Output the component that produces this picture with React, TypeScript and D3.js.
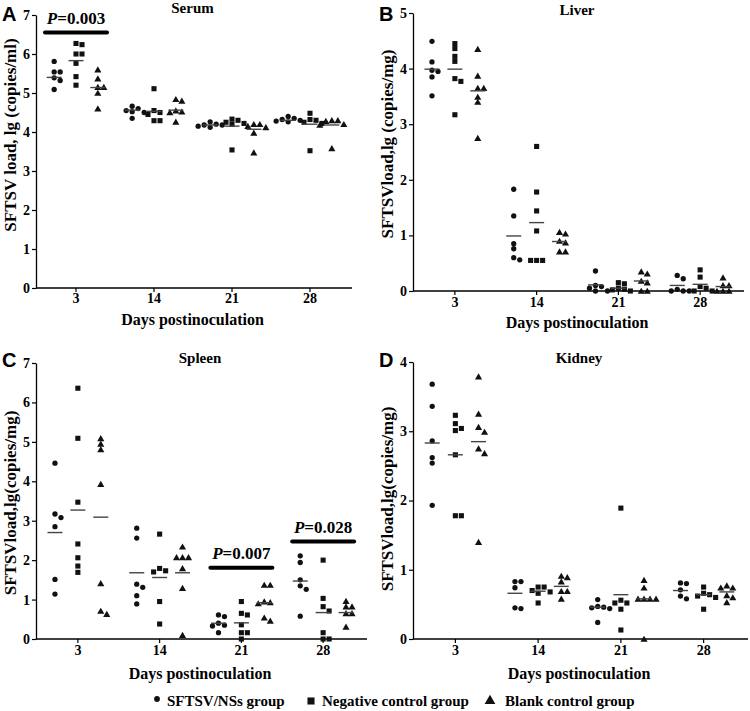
import React, { useEffect, useRef } from "react";
import * as d3 from "d3";

const days = ["3", "14", "21", "28"];
const groups = ["SFTSV/NSs group", "Negative control group", "Blank control group"];

// Serum
const serumNSs = [[5.81, 5.54, 5.54, 5.39, 5.32, 5.09], [4.66, 4.6, 4.55, 4.52, 4.5, 4.35], [4.26, 4.2, 4.18, 4.18, 4.15, 4.12], [4.4, 4.35, 4.32, 4.3, 4.28, 4.26]];
const serumNeg = [[6.27, 6.24, 6.0, 6.0, 5.76, 5.42, 5.2], [5.11, 4.55, 4.5, 4.45, 4.29, 4.29], [4.33, 4.3, 4.25, 4.22, 4.2, 3.54], [4.48, 4.32, 4.3, 4.25, 4.22, 3.52]];
const serumBlank = [[5.6, 5.37, 5.15, 5.15, 5.0, 4.6], [4.84, 4.8, 4.55, 4.52, 4.5, 4.26], [4.2, 4.2, 4.15, 4.12, 3.98, 3.47], [4.3, 4.3, 4.28, 4.2, 4.18, 3.58]];
const serumMeanNSs = [5.4, 4.56, 4.18, 4.3];
const serumMeanNeg = [5.83, 4.53, 4.15, 4.2];
const serumMeanBlank = [5.14, 4.56, 4.07, 4.18];

// Liver
const liverNSs = [[4.49, 4.12, 3.97, 3.95, 3.85, 3.51], [1.83, 1.35, 0.85, 0.76, 0.6, 0.56], [0.36, 0.1, 0.08, 0.05, 0, 0], [0.28, 0.22, 0.03, 0, 0, 0]];
const liverNeg = [[4.45, 4.36, 4.22, 4.13, 3.82, 3.77, 3.17], [2.6, 1.78, 1.44, 1.08, 0.55, 0.55, 0.55], [0.15, 0.13, 0.05, 0.03, 0.02, 0], [0.38, 0.25, 0.08, 0.05, 0, 0]];
const liverBlank = [[4.35, 3.87, 3.65, 3.65, 3.49, 3.4, 2.75], [1.06, 1.03, 0.9, 0.87, 0.71, 0.71], [0.35, 0.31, 0.18, 0.15, 0, 0], [0.24, 0.1, 0.1, 0, 0, 0]];
const liverMeanNSs = [3.99, 0.99, 0.11, 0.1];
const liverMeanNeg = [3.99, 1.23, 0.05, 0.12];
const liverMeanBlank = [3.6, 0.89, 0.18, 0.08];

// Spleen
const spleenNSs = [[4.46, 3.17, 3.08, 2.85, 1.51, 1.14], [2.81, 2.56, 1.39, 1.31, 1.1, 0.89], [0.61, 0.57, 0.4, 0.35, 0.33, 0.16], [2.11, 1.94, 1.5, 1.35, 1.26, 0.58]];
const spleenNeg = [[6.36, 5.09, 3.47, 2.41, 2.06, 1.85, 1.69], [2.66, 1.79, 1.73, 1.7, 0.95, 0.38], [0.95, 0.65, 0.61, 0.36, 0.16, 0.16, 0], [2.0, 1.03, 0.82, 0.71, 0.16, 0, 0]];
const spleenBlank = [[5.09, 4.95, 4.81, 3.93, 1.41, 0.71, 0.63], [2.34, 2.07, 2.07, 2.07, 1.79, 1.29, 0.1], [1.37, 1.37, 0.95, 0.93, 0.9, 0.54, 0.46], [0.96, 0.82, 0.82, 0.65, 0.65, 0.31]];
const spleenMeanNSs = [2.7, 1.68, 0.4, 1.47];
const spleenMeanNeg = [3.27, 1.56, 0.41, 0.67];
const spleenMeanBlank = [3.09, 1.68, 0.92, 0.67];

// Kidney
const kidneyNSs = [[3.68, 3.36, 2.86, 2.62, 2.54, 1.93], [0.83, 0.83, 0.74, 0.45, 0.44], [0.57, 0.47, 0.46, 0.45, 0.44, 0.24], [0.81, 0.8, 0.71, 0.62, 0.58]];
const kidneyNeg = [[3.23, 3.11, 3.04, 3.01, 2.66, 1.78, 1.78], [0.75, 0.75, 0.7, 0.68, 0.66, 0.52], [1.89, 0.56, 0.52, 0.52, 0.43, 0.13], [0.75, 0.66, 0.64, 0.62, 0.6, 0.43]];
const kidneyBlank = [[3.79, 3.25, 3.06, 2.99, 2.75, 2.68, 1.4], [0.91, 0.89, 0.83, 0.69, 0.69, 0.58], [0.85, 0.74, 0.58, 0.58, 0.58, 0.58, 0], [0.77, 0.74, 0.74, 0.63, 0.6, 0.53]];
const kidneyMeanNSs = [2.83, 0.66, 0.46, 0.7];
const kidneyMeanNeg = [2.66, 0.69, 0.64, 0.64];
const kidneyMeanBlank = [2.85, 0.76, 0.58, 0.68];

// Significance annotations
const serumSigDays = ["3"];
const serumSigValues = [6.55];
const serumSigLabels = ["=0.003"];
const spleenSigDays = ["21", "28"];
const spleenSigValues = [1.81, 2.47];
const spleenSigLabels = ["=0.007", "=0.028"];

const SERIF = "'Liberation Serif', 'Times New Roman', serif";
const SANS = "'Liberation Sans', Arial, sans-serif";

const panels = [
  { letter: "A", title: "Serum", ylabel: "SFTSV load, lg (copies/ml)", yMax: 7, left: 36, right: 349, bottom: 288, top: 15, xtickY: 303, xtitleY: 325, data: [serumNSs, serumNeg, serumBlank], means: [serumMeanNSs, serumMeanNeg, serumMeanBlank], sigDays: serumSigDays, sigValues: serumSigValues, sigLabels: serumSigLabels, letterY: 21, titleY: 13, ylabelY: 135 },
  { letter: "B", title: "Liver", ylabel: "SFTSVload,lg  (copies/mg)", yMax: 5, left: 413, right: 741, bottom: 291, top: 13, xtickY: 307, xtitleY: 328, data: [liverNSs, liverNeg, liverBlank], means: [liverMeanNSs, liverMeanNeg, liverMeanBlank], sigDays: [], sigValues: [], sigLabels: [], letterY: 21, titleY: 15, ylabelY: 144 },
  { letter: "C", title: "Spleen", ylabel: "SFTSVload,lg(copies/mg)", yMax: 7, left: 36, right: 364, bottom: 639, top: 363, xtickY: 655, xtitleY: 679, data: [spleenNSs, spleenNeg, spleenBlank], means: [spleenMeanNSs, spleenMeanNeg, spleenMeanBlank], sigDays: spleenSigDays, sigValues: spleenSigValues, sigLabels: spleenSigLabels, letterY: 367, titleY: 363, ylabelY: 503 },
  { letter: "D", title: "Kidney", ylabel: "SFTSVload,lg(copies/mg)", yMax: 4, left: 413, right: 745, bottom: 639, top: 362, xtickY: 655, xtitleY: 679, data: [kidneyNSs, kidneyNeg, kidneyBlank], means: [kidneyMeanNSs, kidneyMeanNeg, kidneyMeanBlank], sigDays: [], sigValues: [], sigLabels: [], letterY: 367, titleY: 363, ylabelY: 499 },
];

const symbolTypes = [d3.symbolCircle, d3.symbolSquare, d3.symbolTriangle];
const symbolSizes = [22, 26, 22];

function swarm(ys: number[], step: number) {
  const placed: { x: number; y: number }[] = [];
  const xs = new Array(ys.length).fill(0);
  ys.forEach((yv, i) => {
    const cands = [0];
    for (let k = 1; k < 6; k++) { cands.push(k * step * 0.5, -k * step * 0.5); }
    let chosen = 0;
    for (const c of cands) {
      const hit = placed.some((q) => Math.abs(q.y - yv) < 5 && Math.abs(q.x - c) < 5.5);
      if (!hit) { chosen = c; break; }
    }
    placed.push({ x: chosen, y: yv });
    xs[i] = chosen;
  });
  return xs;
}

export default function App() {
  const ref = useRef<SVGSVGElement>(null);
  useEffect(() => {
    const svg = d3.select(ref.current);
    svg.selectAll("*").remove();
    svg.append("rect").attr("width", 750).attr("height", 711).attr("fill", "#fff");

    panels.forEach((p) => {
      const g = svg.append("g");
      const y = d3.scaleLinear().domain([0, p.yMax]).range([p.bottom, p.top]);
      const x = d3.scaleBand().domain(days).range([p.left + 1, p.right]);
      const bw = x.bandwidth();
      const sub = d3.scalePoint().domain(groups).range([bw * 0.22, bw * 0.78]);

      // y axis
      const ya = g.append("g").attr("transform", `translate(${p.left},0)`)
        .call(d3.axisLeft(y).ticks(p.yMax).tickFormat(d3.format("d")).tickSize(4).tickSizeOuter(0));
      ya.select(".domain").attr("stroke-width", 1.3);
      ya.selectAll(".tick line").attr("stroke-width", 1.2);
      ya.selectAll("text").attr("font-family", SERIF).attr("font-weight", "bold").attr("font-size", 14).attr("x", -6);

      // x axis
      const xa = g.append("g").attr("transform", `translate(0,${p.bottom})`)
        .call(d3.axisBottom(x).tickSize(4).tickSizeOuter(0));
      xa.select(".domain").attr("d", `M${p.left},0H${p.right + 3}`).attr("stroke-width", 1.3);
      xa.selectAll(".tick line").attr("stroke-width", 1.2);
      xa.selectAll("text").attr("font-family", SERIF).attr("font-weight", "bold").attr("font-size", 14)
        .attr("dy", null).attr("y", p.xtickY - p.bottom);

      // points
      p.data.forEach((series, gi) => {
        series.forEach((vals, di) => {
          const cx = (x(days[di]) as number) + (sub(groups[gi]) as number);
          const ys = vals.map((v) => y(v));
          const offs = swarm(ys, 6);
          const sym = d3.symbol().type(symbolTypes[gi]).size(symbolSizes[gi]);
          g.append("g").selectAll("path").data(vals).join("path")
            .attr("d", sym() as string)
            .attr("transform", (v, i) => `translate(${cx + offs[i]},${ys[i] + (gi === 2 ? 0.8 : 0)})`)
            .attr("fill", "#111");
          const m = p.means[gi][di];
          g.append("line").attr("x1", cx - 7.5).attr("x2", cx + 7.5).attr("y1", y(m)).attr("y2", y(m))
            .attr("stroke", "#444").attr("stroke-width", 1.4);
        });
      });

      // significance bars
      p.sigDays.forEach((dname, i) => {
        const c = (x(dname) as number) + bw / 2;
        const by = y(p.sigValues[i]);
        g.append("line").attr("x1", c - 31).attr("x2", c + 31).attr("y1", by).attr("y2", by)
          .attr("stroke", "#000").attr("stroke-width", 4).attr("stroke-linecap", "round");
        const t = g.append("text").attr("x", c).attr("y", by - 9).attr("text-anchor", "middle")
          .attr("font-family", SERIF).attr("font-weight", "bold").attr("font-size", 17);
        t.append("tspan").attr("font-style", "italic").text("P");
        t.append("tspan").text(p.sigLabels[i]);
      });

      // texts
      g.append("text").attr("x", p.left - 34).attr("y", p.letterY).attr("font-family", SANS)
        .attr("font-weight", "bold").attr("font-size", 20).text(p.letter);
      g.append("text").attr("x", (p.left + p.right) / 2).attr("y", p.titleY).attr("text-anchor", "middle")
        .attr("font-family", SERIF).attr("font-weight", "bold").attr("font-size", 15).text(p.title);
      g.append("text").attr("x", (p.left + p.right) / 2).attr("y", p.xtitleY).attr("text-anchor", "middle")
        .attr("font-family", SERIF).attr("font-weight", "bold").attr("font-size", 16).text("Days postinoculation");
      g.append("text").attr("transform", `translate(${p.left - 20},${p.ylabelY}) rotate(-90)`)
        .attr("text-anchor", "middle").attr("font-family", SERIF).attr("font-weight", "bold")
        .attr("font-size", 17).text(p.ylabel);
    });

    // legend
    const legX = [157, 311, 490];
    const leg = svg.append("g");
    groups.forEach((name, gi) => {
      const sym = d3.symbol().type(symbolTypes[gi]).size(gi === 0 ? 26 : 50);
      leg.append("path").attr("d", sym() as string).attr("transform", `translate(${legX[gi]},${gi === 0 ? 699 : 701})`).attr("fill", "#111");
      leg.append("text").attr("x", legX[gi] + (gi === 0 ? 10 : gi === 1 ? 11 : 15)).attr("y", 706)
        .attr("font-family", SERIF).attr("font-weight", "bold").attr("font-size", 15).text(name);
    });
  }, []);
  return <svg ref={ref} width={750} height={711} style={{ display: "block", position: "absolute", left: 0, top: 0 }} />;
}
